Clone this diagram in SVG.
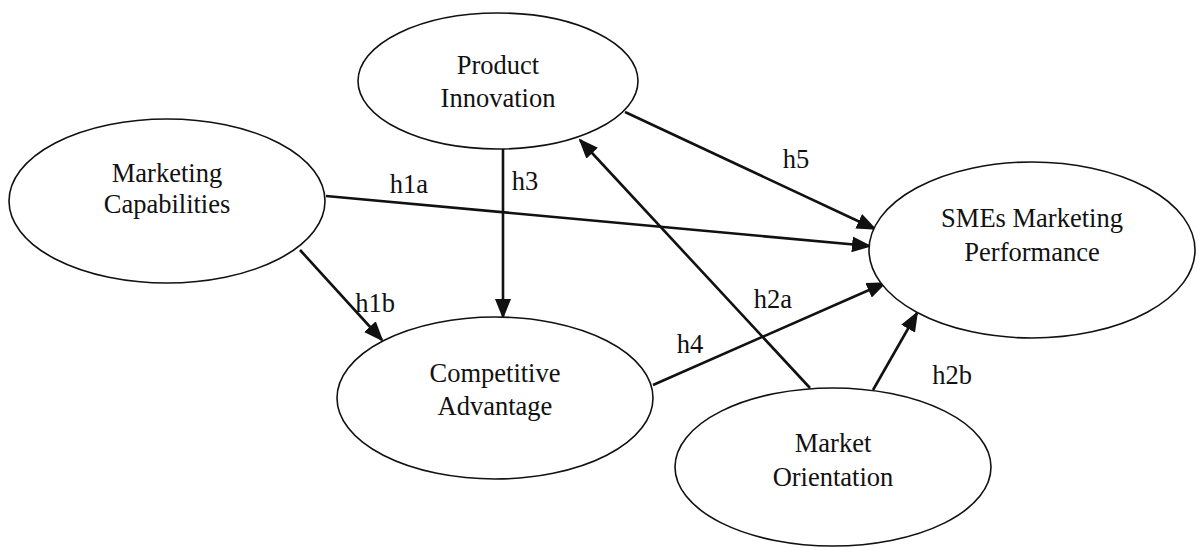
<svg xmlns="http://www.w3.org/2000/svg" width="1198" height="548" viewBox="0 0 1198 548">
<style>
.node ellipse{fill:#fff;stroke:#111;stroke-width:1.6}
.node text,.lbl{font-family:"Liberation Serif","Times New Roman",serif;font-size:26.5px;fill:#111;text-anchor:middle}
.edge{stroke:#111;stroke-width:2.6;fill:none;marker-end:url(#ah)}
</style>
<defs>
<marker id="ah" markerUnits="userSpaceOnUse" markerWidth="20" markerHeight="16" refX="18" refY="8" orient="auto">
<path d="M0,0 L20,8 L0,16 Z" fill="#111"/>
</marker>
</defs>
<rect width="1198" height="548" fill="#fff"/>
<g id="connectors">
<line class="edge" x1="326" y1="196" x2="870" y2="246"/>
<line class="edge" x1="503" y1="149" x2="503" y2="317"/>
<line class="edge" x1="625" y1="112" x2="875" y2="229"/>
<line class="edge" x1="300" y1="250" x2="382" y2="340"/>
<line class="edge" x1="810" y1="388" x2="580" y2="140"/>
<line class="edge" x1="653" y1="385" x2="885" y2="283"/>
<line class="edge" x1="873" y1="390" x2="917" y2="313"/>
</g>
<g id="labels">
<text class="lbl" x="409" y="193">h1a</text>
<text class="lbl" x="525" y="190">h3</text>
<text class="lbl" x="796" y="168">h5</text>
<text class="lbl" x="375" y="312">h1b</text>
<text class="lbl" x="773" y="308">h2a</text>
<text class="lbl" x="690" y="353">h4</text>
<text class="lbl" x="952" y="384">h2b</text>
</g>
<g id="product-innovation" class="node">
<ellipse cx="498" cy="81" rx="140" ry="68"/>
<text x="498" y="74">Product</text>
<text x="498" y="107">Innovation</text>
</g>
<g id="marketing-capabilities" class="node">
<ellipse cx="167" cy="201" rx="158" ry="82"/>
<text x="167" y="182">Marketing</text>
<text x="167" y="213">Capabilities</text>
</g>
<g id="smes-marketing-performance" class="node">
<ellipse cx="1032" cy="250" rx="163" ry="88"/>
<text x="1032" y="227">SMEs Marketing</text>
<text x="1032" y="261">Performance</text>
</g>
<g id="competitive-advantage" class="node">
<ellipse cx="495" cy="398" rx="158" ry="81"/>
<text x="495" y="382">Competitive</text>
<text x="495" y="415">Advantage</text>
</g>
<g id="market-orientation" class="node">
<ellipse cx="833" cy="467" rx="158" ry="79"/>
<text x="833" y="452">Market</text>
<text x="833" y="486">Orientation</text>
</g>
</svg>
